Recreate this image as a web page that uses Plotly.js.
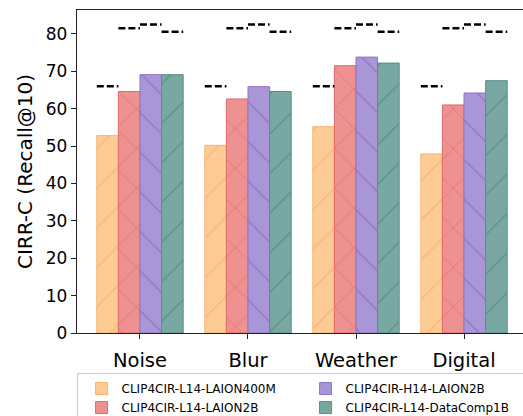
<!DOCTYPE html>
<html>
<head>
<meta charset="utf-8">
<script src="https://cdn.plot.ly/plotly-3.0.1.min.js"></script>
<style>html,body{margin:0;padding:0;background:#fff;}#chart{width:523px;height:416px;}</style>
</head>
<body>
<div id="chart"></div>
<script>
// ---- data ----
const categories = ["Noise", "Blur", "Weather", "Digital"];
const seriesNames = ["CLIP4CIR-L14-LAION400M", "CLIP4CIR-L14-LAION2B", "CLIP4CIR-H14-LAION2B", "CLIP4CIR-L14-DataComp1B"];
const laion400m = [52.8, 50.2, 55.2, 47.9];
const l14laion2b = [64.6, 62.6, 71.5, 61.0];
const h14laion2b = [69.1, 65.9, 73.8, 64.2];
const datacomp1b = [69.1, 64.6, 72.2, 67.5];
// clean (uncorrupted) reference values, drawn as dashed lines over each bar
const cleanValues = [66.0, 81.5, 82.5, 80.6];
const yTicks = [0, 10, 20, 30, 40, 50, 60, 70, 80];

// ---- styles ----
const fills = ["rgb(253,203,148)", "rgb(238,145,145)", "rgb(169,150,214)", "rgb(121,168,162)"];
const edges = ["rgb(247,180,115)", "rgb(226,105,105)", "rgb(145,115,200)", "rgb(92,142,137)"];
const hatchShapes = ["/", "x", "\\", "/"];
const ranks = [1, 3, 2, 4];
const seriesValues = [laion400m, l14laion2b, h14laion2b, datacomp1b];

const barW = 0.2;
const nS = seriesValues.length;
const idx = categories.map((_, i) => i);

const traces = [];
seriesValues.forEach((vals, s) => {
  const off = -barW * nS / 2 + s * barW;
  traces.push({
    type: "bar",
    name: seriesNames[s],
    x: idx,
    y: vals,
    width: barW,
    offset: off,
    legendrank: ranks[s],
    marker: {
      color: fills[s],
      line: {color: edges[s], width: 1},
      pattern: {shape: hatchShapes[s], fillmode: "overlay", bgcolor: fills[s], fgcolor: edges[s], size: 28, solidity: 0.05, fgopacity: 0.9}
    },
    hoverinfo: "y"
  });
});
// dashed clean lines
const lx = [], ly = [];
cleanValues.forEach((v, s) => {
  const off = -barW * nS / 2 + s * barW;
  idx.forEach(i => {
    lx.push(i + off, i + off + barW, null);
    ly.push(v, v, null);
  });
});
traces.push({
  type: "scatter", mode: "lines", x: lx, y: ly, showlegend: false, hoverinfo: "skip",
  line: {color: "#000", width: 2.5, dash: "7px,3px"}
});

const layout = {
  width: 523, height: 416,
  margin: {l: 77, r: 0, t: 10, b: 83, autoexpand: false},
  paper_bgcolor: "#fff", plot_bgcolor: "#fff",
  font: {family: "DejaVu Sans", color: "#000"},
  bargap: 0,
  showlegend: true,
  xaxis: {
    range: [-0.583, 3.546],
    tickvals: idx, ticktext: categories,
    showgrid: false, zeroline: false,
    showline: true, linecolor: "#222", linewidth: 1.2, mirror: true,
    ticks: "outside", ticklen: 5, tickcolor: "#222",
    ticklabelstandoff: 4,
    tickfont: {size: 19.5, family: "DejaVu Sans"}
  },
  yaxis: {
    range: [0, 86.4],
    tickvals: yTicks,
    showgrid: false, zeroline: false,
    showline: true, linecolor: "#222", linewidth: 1.2,
    ticks: "outside", ticklen: 5, tickcolor: "#222",
    tickfont: {size: 17, family: "DejaVu Sans"},
    title: {text: "CIRR-C (Recall@10)", font: {size: 20, family: "DejaVu Sans"}, standoff: 7}
  },
  legend: {
    orientation: "h",
    x: -0.001, xanchor: "left",
    y: -0.124, yanchor: "top",
    entrywidth: 175, entrywidthmode: "pixels",
    indentation: 4,
    traceorder: "normal",
    font: {size: 12, family: "DejaVu Sans"},
    bordercolor: "#ccc", borderwidth: 1, bgcolor: "rgba(255,255,255,0.8)",
    tracegroupgap: 0
  }
};

Plotly.newPlot("chart", traces, layout, {displayModeBar: false, staticPlot: true});
</script>
</body>
</html>
